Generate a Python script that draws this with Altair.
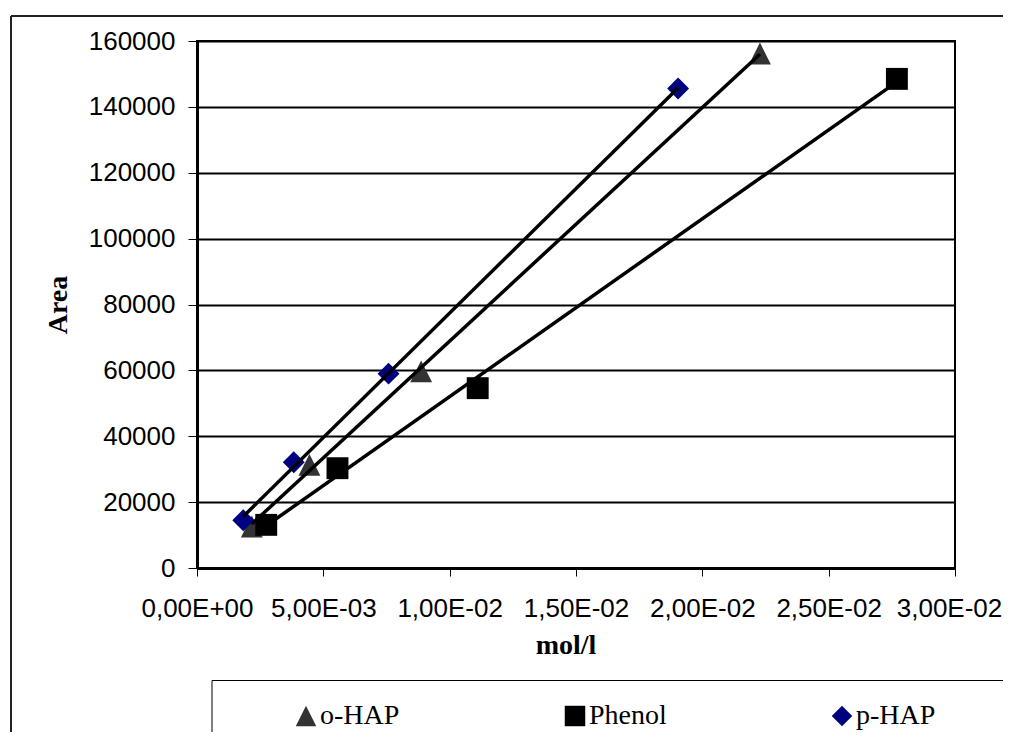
import altair as alt
import pandas as pd

# ---- data ----
series_names = ["o-HAP", "Phenol", "p-HAP"]

ohap_x = [0.00217, 0.00445, 0.00887, 0.02228]
ohap_y = [12600, 31300, 59700, 156200]

phenol_x = [0.00274, 0.00556, 0.01111, 0.02770]
phenol_y = [13100, 30300, 54600, 148500]

phap_x = [0.00183, 0.00383, 0.00758, 0.01904]
phap_y = [14500, 32100, 59000, 145600]

x_ticks = [0, 0.005, 0.01, 0.015, 0.02, 0.025, 0.03]
y_ticks = [0, 20000, 40000, 60000, 80000, 100000, 120000, 140000, 160000]

series_colors = ["#333333", "#000000", "#000080"]
series_shapes = ["M0,-1L1,1L-1,1Z", "square", "diamond"]

rows = []
for name, xs, ys in [("o-HAP", ohap_x, ohap_y), ("Phenol", phenol_x, phenol_y), ("p-HAP", phap_x, phap_y)]:
    for xv, yv in zip(xs, ys):
        rows.append({"series": name, "x": xv, "y": yv})
df = pd.DataFrame(rows)

W, H = 758, 527

x_label_expr = (
    "datum.value == 0 ? '0,00E+00' : "
    "replace(format(datum.value / pow(10, floor(log(datum.value)/LN10 + 1e-9)), '.2f'), '.', ',')"
    " + 'E-0' + toString(-floor(log(datum.value)/LN10 + 1e-9))"
)

x_enc = alt.X(
    "x:Q",
    scale=alt.Scale(domain=[0, 0.03], nice=False, zero=False),
    axis=alt.Axis(
        values=x_ticks,
        labelExpr=x_label_expr,
        tickSize=8,
        labelPadding=19,
        labelFlush=False,
        labelOverlap=False,
        labelOffset={"condition": {"test": "datum.value > 0.0299", "value": -6}, "value": 0},
        grid=False,
        title="mol/l",
        titleX=368.5,
        titleY=85,
        titleAlign="center",
        titleBaseline="alphabetic",
    ),
)
y_enc = alt.Y(
    "y:Q",
    scale=alt.Scale(domain=[0, 160000], nice=False),
    axis=alt.Axis(
        values=y_ticks,
        format="d",
        tickSize=9,
        labelPadding=13,
        labelOverlap=False,
        grid=True,
        gridColor="#000000",
        gridWidth=2,
        title="Area",
        titleAngle=270,
        titleX=-131,
        titleY=263.5,
        titleAlign="center",
        titleBaseline="alphabetic",
    ),
)

base = alt.Chart(df)

points = base.mark_point(filled=True, opacity=1, strokeWidth=0).encode(
    x=x_enc,
    y=y_enc,
    color=alt.Color("series:N", scale=alt.Scale(domain=series_names, range=series_colors),
                    legend=alt.Legend(title=None)),
    shape=alt.Shape("series:N", scale=alt.Scale(domain=series_names, range=series_shapes),
                    legend=alt.Legend(title=None)),
    size=alt.value(480),
)

lines = base.transform_regression("x", "y", groupby=["series"]).mark_line(
    color="#000000", strokeWidth=3.5
).encode(x="x:Q", y="y:Q", detail="series:N")

one = pd.DataFrame({"a": [0]})
frame_left = alt.Chart(one).mark_rule(color="#222222", strokeWidth=2).encode(
    x=alt.value(-186), y=alt.value(-25), y2=alt.value(800))
frame_top = alt.Chart(one).mark_rule(color="#222222", strokeWidth=2).encode(
    x=alt.value(-186), x2=alt.value(900), y=alt.value(-25))
leg_top = alt.Chart(one).mark_rule(color="#000000", strokeWidth=1).encode(
    x=alt.value(15), x2=alt.value(900), y=alt.value(639.5))
leg_left = alt.Chart(one).mark_rule(color="#000000", strokeWidth=1).encode(
    x=alt.value(15), y=alt.value(639.5), y2=alt.value(800))

chart = alt.layer(points, lines, frame_left, frame_top, leg_top, leg_left).properties(
    width=W,
    height=H,
    autosize=alt.AutoSizeParams(type="none"),
    padding={"left": 189, "top": 33, "right": 48, "bottom": 164},
    background="#ffffff",
).configure_view(
    stroke="#000000", strokeWidth=2
).configure_axis(
    domainColor="#000000",
    domainWidth=3,
    tickColor="#000000",
    tickWidth=1,
    labelFont="Liberation Sans",
    labelFontSize=26,
    labelColor="#000000",
    titleFont="Liberation Serif",
    titleFontWeight="bold",
    titleFontSize=28,
    titleColor="#000000",
).configure_legend(
    orient="none",
    legendX=95,
    legendY=661,
    direction="horizontal",
    labelFont="Liberation Serif",
    labelFontSize=28,
    labelColor="#000000",
    symbolSize=420,
    symbolStrokeWidth=0,
    symbolOpacity=1,
    labelOffset=0,
    columnPadding=161,
    padding=0,
    labelLimit=300,
)

chart.save("out.html", embed_options={"renderer": "svg", "actions": False})
